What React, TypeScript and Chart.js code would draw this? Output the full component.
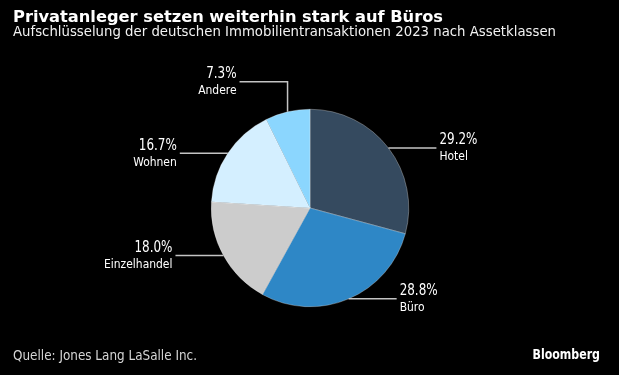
import React, { useEffect, useRef } from 'react';
import { Chart, registerables } from 'chart.js';

Chart.register(...registerables);

const categories = ['Hotel', 'Büro', 'Einzelhandel', 'Wohnen', 'Andere'];
const shares = [29.2, 28.8, 18.0, 16.7, 7.3];
const sliceColors = ['#354a5f', '#2e87c6', '#cccccc', '#d4efff', '#8bd6fe'];
const leaderRise = [0, 0, 0, 0, 30];

const titleText = 'Privatanleger setzen weiterhin stark auf Büros';
const subtitleText = 'Aufschlüsselung der deutschen Immobilientransaktionen 2023 nach Assetklassen';
const sourceText = 'Quelle: Jones Lang LaSalle Inc.';
const brandText = 'Bloomberg';

const FONT = '"DejaVu Sans", "Noto Sans", sans-serif';

function drawFitted(ctx: CanvasRenderingContext2D, text: string, x: number, y: number, font: string, color: string, width: number, align: CanvasTextAlign = 'left') {
  ctx.save();
  ctx.font = font;
  ctx.fillStyle = color;
  ctx.textBaseline = 'alphabetic';
  const w = ctx.measureText(text).width;
  const s = width / w;
  ctx.translate(x, y);
  ctx.scale(s, 1);
  ctx.textAlign = align;
  ctx.fillText(text, 0, 0);
  ctx.restore();
}

function drawScaled(ctx: CanvasRenderingContext2D, text: string, x: number, y: number, font: string, color: string, s: number, align: CanvasTextAlign) {
  ctx.save();
  ctx.font = font;
  ctx.fillStyle = color;
  ctx.textBaseline = 'alphabetic';
  ctx.translate(x, y);
  ctx.scale(s, 1);
  ctx.textAlign = align;
  ctx.fillText(text, 0, 0);
  ctx.restore();
}

const decorPlugin = {
  id: 'decor',
  beforeDraw(chart: any) {
    const ctx = chart.ctx as CanvasRenderingContext2D;
    ctx.save();
    ctx.fillStyle = '#000000';
    ctx.fillRect(0, 0, chart.width, chart.height);
    ctx.restore();
  },
  afterDraw(chart: any) {
    const ctx = chart.ctx as CanvasRenderingContext2D;
    drawFitted(ctx, titleText, 13, 21.5, `bold 16px ${FONT}`, '#ffffff', 430);
    drawFitted(ctx, subtitleText, 13, 35.5, `13.5px ${FONT}`, '#f2f2f2', 543);
    drawFitted(ctx, sourceText, 13, 360, `13.5px ${FONT}`, '#d6d6d6', 184);
    drawFitted(ctx, brandText, 600, 359, `bold 14px ${FONT}`, '#ffffff', 67.5, 'right');

    const pctFont = `16px ${FONT}`;
    const catFont = `12px ${FONT}`;
    ctx.save();
    ctx.font = pctFont;
    const pctScale = 38 / ctx.measureText('29.2%').width;
    ctx.font = catFont;
    const catScale = 68.5 / ctx.measureText('Einzelhandel').width;
    ctx.restore();

    const meta = chart.getDatasetMeta(0);
    meta.data.forEach((arc: any, i: number) => {
      const p = arc.getProps(['x', 'y', 'startAngle', 'endAngle', 'outerRadius'], true);
      const mid = (p.startAngle + p.endAngle) / 2;
      const sx = p.x + Math.cos(mid) * p.outerRadius;
      const sy = p.y + Math.sin(mid) * p.outerRadius;
      const side = Math.cos(mid) >= 0 ? 1 : -1;
      const ly = sy - leaderRise[i];
      const ex = sx + side * 48;
      ctx.save();
      ctx.strokeStyle = '#c4c4c4';
      ctx.lineWidth = 1.5;
      ctx.beginPath();
      ctx.moveTo(sx, sy);
      if (leaderRise[i]) ctx.lineTo(sx, ly);
      ctx.lineTo(ex, ly);
      ctx.stroke();
      ctx.restore();
      const tx = ex + side * 3;
      const align: CanvasTextAlign = side > 0 ? 'left' : 'right';
      drawScaled(ctx, shares[i].toFixed(1) + '%', tx, ly - 3.5, pctFont, '#ffffff', pctScale, align);
      drawScaled(ctx, categories[i], tx, ly + 12.5, catFont, '#ffffff', catScale, align);
    });
  },
};

export default function App() {
  const ref = useRef<HTMLCanvasElement | null>(null);
  useEffect(() => {
    document.body.style.margin = '0';
    document.body.style.background = '#000';
    const canvas = ref.current;
    if (!canvas) return;
    const chart = new Chart(canvas, {
      type: 'pie',
      data: {
        labels: categories,
        datasets: [
          {
            data: shares,
            backgroundColor: sliceColors,
            borderColor: 'rgba(255,255,255,0.6)',
            borderWidth: 0.5,
          },
        ],
      },
      options: {
        responsive: false,
        devicePixelRatio: 1,
        animation: false,
        layout: { padding: { left: 211, right: 210, top: 109, bottom: 68 } },
        plugins: {
          legend: { display: false },
          tooltip: { enabled: false },
          title: { display: false },
        },
      },
      plugins: [decorPlugin],
    });
    return () => chart.destroy();
  }, []);
  return (
    <div style={{ width: 619, height: 375, background: '#000' }}>
      <canvas ref={ref} width={619} height={375} style={{ display: 'block' }} />
    </div>
  );
}
